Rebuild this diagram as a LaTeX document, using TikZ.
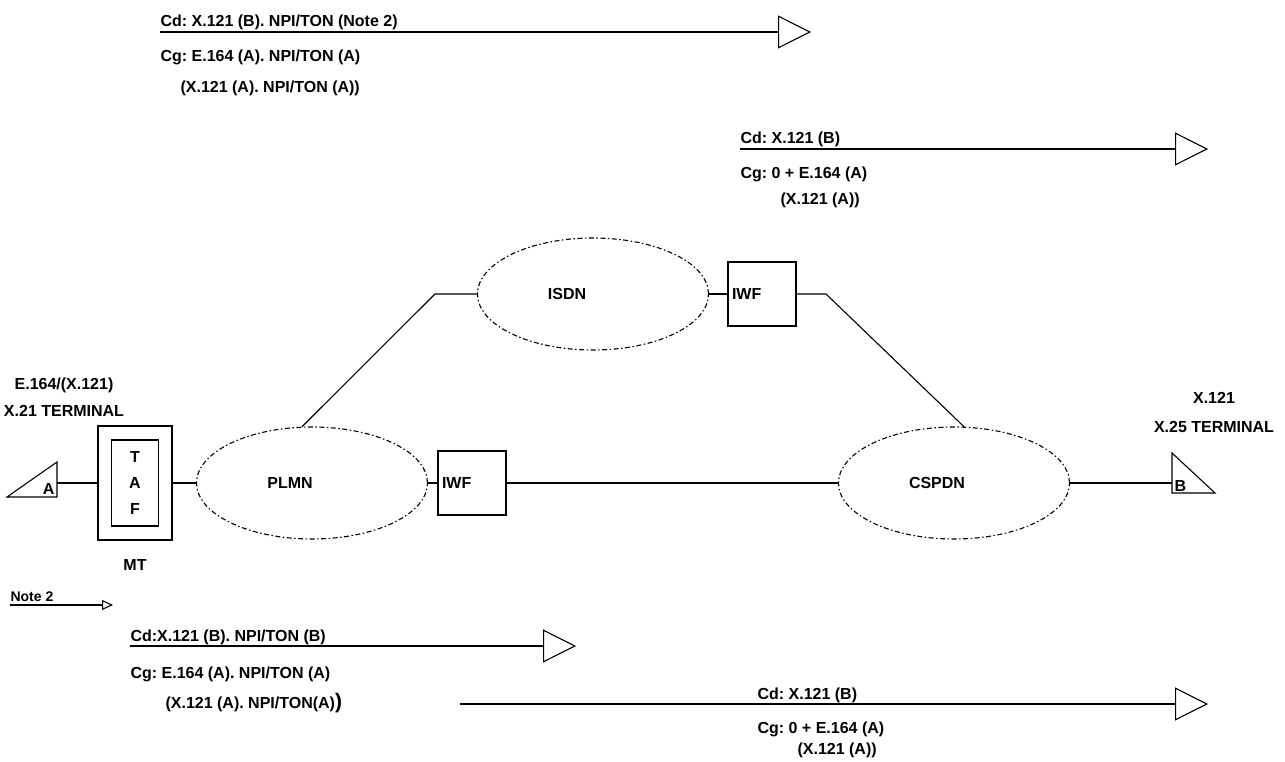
\documentclass[tikz,border=0pt]{standalone}
\usepackage{fontspec}
\setmainfont{Liberation Sans}
\usepackage{tikz}
\usetikzlibrary{arrows.meta,shapes,positioning}
\newcommand{\netw}{231pt}
\newcommand{\neth}{112pt}
\newcommand{\lw}{1.1pt}
\frenchspacing

\begin{document}
\begin{tikzpicture}[x=1pt, y=-1pt, line width=\lw,
                font=\fontsize{16}{19}\selectfont\bfseries,
                net/.style={ellipse, draw, dash pattern=on 5pt off 2.5pt on 1.5pt off 2.5pt,
                        minimum width=\netw, minimum height=\neth},
                iwfbox/.style={draw, text width=60pt, inner xsep=4pt, minimum height=64pt, align=left},
                msg/.style={-{Triangle[open, length=33pt, width=33pt]}},
                notemsg/.style={-{Triangle[open, length=11pt, width=10pt]}},
                lbl/.style={anchor=base west, inner sep=0pt}]
                %\draw[help lines] (0,0) grid[step=50] (1285,762);
                \useasboundingbox (0,0) rectangle (1285,762);

                % networks
                \node[net, label={[xshift=-26pt]center:ISDN}] (isdn) at (593,294) {};
                \node[iwfbox] (iwfa) at (762,294) {IWF};
                \node[net, label={[xshift=-22pt]center:PLMN}] (plmn) at (312,483) {};
                \node[iwfbox] (iwfb) at (472,483) {IWF};
                \node[net, label={[xshift=-17pt]center:CSPDN}] (cspdn) at (954,483) {};
                \coordinate (kl) at (435,294);
                \coordinate (kr) at (826,294);

                % terminals
                \node[draw, minimum width=74pt, minimum height=114pt] (mt) at (135,483) {};
                \node[draw, minimum width=47pt, minimum height=86pt, align=center,
                        font=\fontsize{16}{26}\selectfont\bfseries] (taf) at (mt.center) {T\\A\\F};
                \node (mtl) at (135,565) {MT};
                \node[align=center, font=\fontsize{16}{27}\selectfont\bfseries] (tal) at (64,397) {E.164/(X.121)\\X.21 TERMINAL};
                \node[align=center, font=\fontsize{16}{29}\selectfont\bfseries] (tbl) at (1214,412) {X.121\\X.25 TERMINAL};
                \draw (7,497) -- (57,497) -- (57,462) -- cycle;
                \coordinate (ta) at (57,483);
                \node[lbl, anchor=base east] (la) at (55,494) {A};
                \draw (1172,453) -- (1172,493) -- (1215,493) -- cycle;
                \coordinate (tb) at (1172,483);
                \node[lbl] (lb) at (1174,491) {B};

                \draw (ta) -- (mt.west);
                \draw (mt.east) -- (plmn.west);
                \draw (plmn.east) -- (iwfb.west);
                \draw (iwfb.east) -- (cspdn.west);
                \draw (cspdn.east) -- (tb);
                \draw (plmn.100) -- (kl) -- (isdn.west);
                \draw (isdn.east) -- (iwfa.west);
                \draw (iwfa.east) -- (kr) -- (cspdn.80);

                % messages
                \coordinate (m1s) at (160,32);
                \coordinate (m1e) at (811,32);
                \draw[msg] (m1s) -- (m1e);
                \node[lbl] (cd1) at (160,27) {Cd: X.121 (B). NPI/TON (Note 2)};
                \node[lbl] (cg1) at (160,62) {Cg: E.164 (A). NPI/TON (A)};
                \node[lbl] (cx1) at (180,93) {(X.121 (A). NPI/TON (A))};

                \coordinate (m2s) at (740,149);
                \coordinate (m2e) at (1208,149);
                \draw[msg] (m2s) -- (m2e);
                \node[lbl] (cd2) at (740,144) {Cd: X.121 (B)};
                \node[lbl] (cg2) at (740,179) {Cg: 0 + E.164 (A)};
                \node[lbl] (cx2) at (780,205) {(X.121 (A))};

                \coordinate (ns) at (10,605);
                \coordinate (ne) at (113,605);
                \draw[notemsg] (ns) -- (ne);
                \node[lbl, font=\fontsize{14}{16}\selectfont\bfseries] (nt) at (10,601) {Note 2};

                \coordinate (m3s) at (130,646);
                \coordinate (m3e) at (576,646);
                \draw[msg] (m3s) -- (m3e);
                \node[lbl] (cd3) at (130,641) {Cd:X.121 (B). NPI/TON (B)};
                \node[lbl] (cg3) at (130,678) {Cg: E.164 (A). NPI/TON (A)};
                \node[lbl] (cx3) at (165,708) {(X.121 (A). NPI/TON(A){\fontsize{21}{21}\selectfont )}};

                \coordinate (m4s) at (460,704);
                \coordinate (m4e) at (1208,704);
                \draw[msg] (m4s) -- (m4e);
                \node[lbl] (cd4) at (757,699) {Cd: X.121 (B)};
                \node[lbl] (cg4) at (757,733) {Cg: 0 + E.164 (A)};
                \node[lbl] (cx4) at (797,754) {(X.121 (A))};
        \end{tikzpicture}
\end{document}
